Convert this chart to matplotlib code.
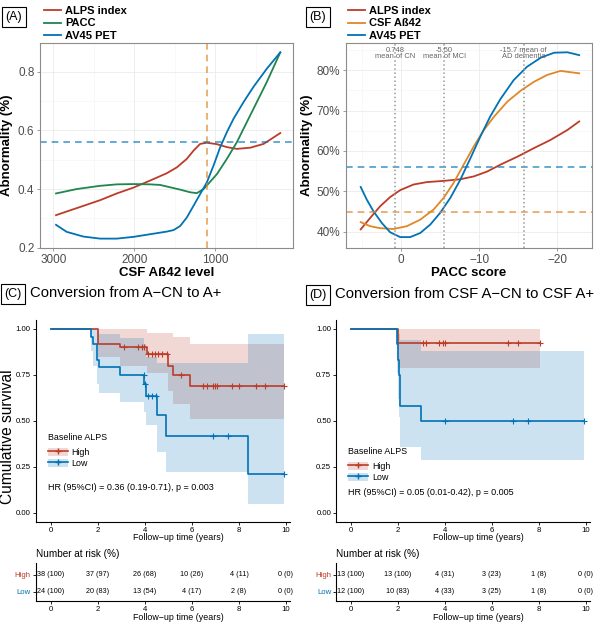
import numpy as np
import matplotlib
matplotlib.use('Agg')
import matplotlib.pyplot as plt
from matplotlib.lines import Line2D
from matplotlib.patches import Patch

plt.rcParams['font.family'] = ['Liberation Sans', 'DejaVu Sans']

RED = '#BC3C29'
BLUE = '#0072B5'
GREEN = '#20854E'
ORANGE = '#E18727'

# ---- panel A: abnormality vs CSF Abeta42 ----
a_alps_x = [2967, 2711, 2423, 2216, 2010, 1804, 1598, 1474, 1351, 1268, 1186, 1103, 979, 856, 732, 567, 402, 196]
a_alps_y = [0.311, 0.335, 0.362, 0.385, 0.405, 0.429, 0.454, 0.474, 0.503, 0.531, 0.554, 0.558, 0.553, 0.543, 0.537, 0.541, 0.554, 0.591]
a_pacc_x = [2967, 2711, 2423, 2216, 2010, 1804, 1680, 1557, 1433, 1309, 1227, 1144, 1062, 979, 856, 732, 608, 485, 361, 196]
a_pacc_y = [0.385, 0.400, 0.411, 0.416, 0.417, 0.416, 0.414, 0.406, 0.398, 0.389, 0.386, 0.400, 0.425, 0.451, 0.503, 0.560, 0.629, 0.697, 0.766, 0.866]
a_av45_x = [2967, 2835, 2629, 2423, 2216, 2010, 1804, 1598, 1515, 1433, 1351, 1268, 1186, 1103, 1021, 938, 856, 773, 649, 526, 361, 196]
a_av45_y = [0.278, 0.254, 0.238, 0.231, 0.231, 0.237, 0.246, 0.255, 0.260, 0.274, 0.303, 0.343, 0.383, 0.423, 0.480, 0.543, 0.594, 0.640, 0.697, 0.749, 0.811, 0.866]
a_cut_x = 1098
a_cut_y = 0.56

# ---- panel B: abnormality vs PACC ----
b_alps_x = [5.18, 3.98, 2.7, 1.41, 0.13, -1.58, -3.3, -5.44, -7.58, -9.29, -11.0, -12.7, -14.9, -17.0, -19.1, -21.3, -22.8]
b_alps_y = [40.6, 43.4, 46.3, 48.6, 50.3, 51.7, 52.3, 52.6, 53.0, 53.7, 54.9, 56.6, 58.6, 60.7, 62.7, 65.2, 67.3]
b_csf_x = [5.18, 3.98, 2.7, 0.98, -0.73, -2.44, -4.15, -5.44, -6.72, -8.0, -9.29, -10.6, -11.9, -13.6, -15.3, -17.0, -18.7, -20.4, -22.8]
b_csf_y = [42.4, 41.4, 40.9, 40.7, 41.4, 43.0, 45.5, 48.4, 52.1, 56.6, 61.1, 65.2, 68.5, 72.2, 74.9, 77.1, 78.8, 79.8, 79.2]
b_av45_x = [5.18, 4.41, 3.55, 2.48, 1.41, 0.13, -1.16, -2.44, -3.73, -5.0, -6.3, -7.58, -8.87, -10.15, -11.4, -12.7, -14.4, -16.1, -17.9, -19.6, -21.3, -22.8]
b_av45_y = [51.1, 48.0, 45.1, 42.2, 39.9, 38.7, 38.7, 39.7, 41.8, 44.7, 48.4, 52.9, 58.2, 63.6, 68.5, 72.8, 77.5, 80.8, 83.1, 84.3, 84.4, 83.7]
b_means = [0.748, -5.50, -15.7]
b_mean_labels = ['0.748\nmean of CN', '-5.50\nmean of MCI', '-15.7 mean of\nAD dementia']
b_cut_av45 = 56
b_cut_csf = 45

# ---- panel C: KM A-CN -> A+ ----
c_hi_t = [0, 2.0, 2.95, 4.08, 5.0, 5.21, 5.9, 9.9]
c_hi_s = [1, 0.92, 0.902, 0.862, 0.80, 0.751, 0.688, 0.688]
c_hi_up = [1, 1, 1, 0.98, 0.98, 0.956, 0.917, 0.917]
c_hi_lo = [1, 0.85, 0.80, 0.76, 0.66, 0.59, 0.51, 0.51]
c_hi_cens = [3.13, 3.72, 3.88, 3.95, 4.15, 4.29, 4.43, 4.55, 4.72, 4.93, 5.54, 6.49, 6.63, 6.91, 6.98, 7.05, 7.69, 8.02, 8.71, 9.11, 9.9]
c_lo_t = [0, 1.71, 1.81, 1.95, 2.05, 2.95, 3.97, 4.03, 4.5, 4.9, 8.37, 9.92]
c_lo_s = [1, 0.958, 0.917, 0.833, 0.792, 0.75, 0.70, 0.633, 0.53, 0.42, 0.21, 0.21]
c_lo_up = [1, 1, 1, 0.99, 0.975, 0.95, 0.92, 0.85, 0.815, 0.815, 0.974, 0.974]
c_lo_lo = [1, 0.88, 0.80, 0.70, 0.65, 0.60, 0.55, 0.48, 0.33, 0.22, 0.05, 0.05]
c_lo_cens = [3.95, 4.0, 4.15, 4.29, 4.46, 6.91, 7.52, 9.92]
c_hr = 'HR (95%CI) = 0.36 (0.19-0.71), p = 0.003'
c_risk_hi = ['38 (100)', '37 (97)', '26 (68)', '10 (26)', '4 (11)', '0 (0)']
c_risk_lo = ['24 (100)', '20 (83)', '13 (54)', '4 (17)', '2 (8)', '0 (0)']

# ---- panel D: KM CSF A-CN -> CSF A+ ----
d_hi_t = [0, 2.02, 8.04]
d_hi_s = [1, 0.923, 0.923]
d_hi_up = [1, 1, 1]
d_hi_lo = [1, 0.79, 0.79]
d_hi_cens = [3.06, 3.2, 3.77, 3.91, 4.0, 6.7, 7.12, 8.04]
d_lo_t = [0, 1.95, 2.0, 2.05, 2.1, 2.97, 9.91]
d_lo_s = [1, 0.917, 0.833, 0.75, 0.583, 0.5, 0.5]
d_lo_up = [1, 1, 1, 0.97, 0.94, 0.88, 0.88]
d_lo_lo = [1, 0.76, 0.62, 0.52, 0.36, 0.287, 0.287]
d_lo_cens = [4.0, 6.91, 7.55, 9.91]
d_hr = 'HR (95%CI) = 0.05 (0.01-0.42), p = 0.005'
d_risk_hi = ['13 (100)', '13 (100)', '4 (31)', '3 (23)', '1 (8)', '0 (0)']
d_risk_lo = ['12 (100)', '10 (83)', '4 (33)', '3 (25)', '1 (8)', '0 (0)']

risk_times = [0, 2, 4, 6, 8, 10]

W, H = 602, 625
fig = plt.figure(figsize=(W / 100, H / 100), dpi=100)


def fax(l, t, r, b):
    return fig.add_axes([l / W, 1 - b / H, (r - l) / W, (b - t) / H])


def ftext(x, y, s, **kw):
    return fig.text(x / W, 1 - y / H, s, **kw)


def style_top(ax):
    ax.grid(which='major', color='#EBEBEB', lw=0.6)
    ax.grid(which='minor', color='#F3F3F3', lw=0.4)
    ax.set_axisbelow(True)
    for sp in ax.spines.values():
        sp.set_color('#8C8C8C')
        sp.set_linewidth(0.8)
    ax.tick_params(which='major', labelsize=8.5, colors='#8C8C8C', labelcolor='#4D4D4D', length=2.5, width=0.6, pad=1.5)
    ax.tick_params(which='minor', length=0)


def top_legend(ax, x):
    ax.legend(loc='upper left', bbox_to_anchor=(x / W, 1 - 6 / H), bbox_transform=fig.transFigure,
              frameon=False, prop={'weight': 'bold', 'size': 8}, handlelength=1.5, handletextpad=0.4,
              labelspacing=0.22, borderpad=0, borderaxespad=0)


# panel A
axA = fax(40, 43, 293, 248)
axA.plot(a_alps_x, a_alps_y, color=RED, lw=1.3, label='ALPS index')
axA.plot(a_pacc_x, a_pacc_y, color=GREEN, lw=1.3, label='PACC')
axA.plot(a_av45_x, a_av45_y, color=BLUE, lw=1.3, label='AV45 PET')
axA.axvline(a_cut_x, color=ORANGE, ls=(0, (4, 3)), lw=1.2, alpha=0.75)
axA.axhline(a_cut_y, color=BLUE, ls=(0, (4, 3)), lw=1.2, alpha=0.7)
axA.set_xlim(3165, 39)
axA.set_ylim(0.199, 0.898)
axA.set_xticks([3000, 2000, 1000])
axA.set_xticks([2500, 1500, 500], minor=True)
axA.set_yticks([0.2, 0.4, 0.6, 0.8])
axA.set_yticks([0.3, 0.5, 0.7], minor=True)
style_top(axA)
axA.set_xlabel('CSF Aß42 level', fontsize=9.5, fontweight='bold', labelpad=1)
axA.set_ylabel('Abnormality (%)', fontsize=9.5, fontweight='bold')
axA.yaxis.set_label_coords((13 - 40) / 253, 0.5)
top_legend(axA, 44)

# panel B
axB = fax(345.7, 43, 591.7, 248)
axB.plot(b_alps_x, b_alps_y, color=RED, lw=1.3, label='ALPS index')
axB.plot(b_csf_x, b_csf_y, color=ORANGE, lw=1.3, label='CSF Aß42')
axB.plot(b_av45_x, b_av45_y, color=BLUE, lw=1.3, label='AV45 PET')
axB.axhline(b_cut_av45, color=BLUE, ls=(0, (4, 3)), lw=1.2, alpha=0.7)
axB.axhline(b_cut_csf, color=ORANGE, ls=(0, (4, 3)), lw=1.2, alpha=0.75)
for xm, lab in zip(b_means, b_mean_labels):
    axB.axvline(xm, color='#9A9A9A', ls=':', lw=1.1)
    axB.text(xm, 84.1, lab, ha='center', va='center', fontsize=5.4, color='#666666', linespacing=0.95)
axB.set_xlim(7.1, -24.4)
axB.set_ylim(36.0, 86.7)
axB.set_xticks([0, -10, -20])
axB.set_xticklabels(['0', '\u221210', '\u221220'])
axB.set_xticks([5, -5, -15], minor=True)
axB.set_yticks([40, 50, 60, 70, 80])
axB.set_yticklabels(['40%', '50%', '60%', '70%', '80%'])
axB.set_yticks([45, 55, 65, 75, 85], minor=True)
style_top(axB)
axB.set_xlabel('PACC score', fontsize=9.5, fontweight='bold', labelpad=1)
axB.set_ylabel('Abnormality (%)', fontsize=9.5, fontweight='bold')
axB.yaxis.set_label_coords((313 - 345.7) / 246, 0.5)
top_legend(axB, 348)


def step_at(t, s, x):
    idx = np.searchsorted(np.asarray(t), np.asarray(x), side='right') - 1
    return np.asarray(s)[idx]


def km_panel(l, r, zero_px, hi, lo, hr, hr_y, leg_y):
    ax = fax(l, 319.8, r, 521.9)
    x0 = (l - zero_px) / 23.53
    x1 = (r - zero_px) / 23.53
    for (t, s, up, dn, cens), col in ((hi, RED), (lo, BLUE)):
        ax.fill_between(t, dn, up, step='post', color=col, alpha=0.2, lw=0)
    for (t, s, up, dn, cens), col in ((hi, RED), (lo, BLUE)):
        ax.step(t, s, where='post', color=col, lw=1.2)
        ax.plot(cens, step_at(t, s, cens), '+', color=col, ms=4, mew=0.8)
    ax.set_xlim(x0, x1)
    ax.set_ylim(-0.05, 1.05)
    ax.set_xticks(risk_times)
    ax.set_yticks([0, 0.25, 0.5, 0.75, 1.0])
    ax.set_yticklabels(['0.00', '0.25', '0.50', '0.75', '1.00'])
    for sp in ('top', 'right'):
        ax.spines[sp].set_visible(False)
    for sp in ('left', 'bottom'):
        ax.spines[sp].set_linewidth(0.8)
    ax.tick_params(labelsize=5.6, length=2, width=0.6, pad=1.5)
    handles = [(Patch(facecolor=RED, alpha=0.2), Line2D([], [], color=RED, marker='+', ms=4, lw=1.2)),
               (Patch(facecolor=BLUE, alpha=0.2), Line2D([], [], color=BLUE, marker='+', ms=4, lw=1.2))]
    leg = ax.legend(handles, ['High', 'Low'], title='Baseline ALPS', loc='upper left',
                    bbox_to_anchor=((l + 12) / W, 1 - leg_y / H), bbox_transform=fig.transFigure,
                    frameon=False, fontsize=6.4, title_fontsize=6.4, handlelength=2.3, handleheight=1.1,
                    handletextpad=0.4, labelspacing=0.2, borderpad=0, borderaxespad=0)
    leg._legend_box.align = 'left'
    leg._legend_box.sep = 4
    ftext(l + 12.5, hr_y, hr, fontsize=6.5, va='center')
    return ax


def risk_panel(l, r, zero_px, hi_vals, lo_vals):
    ax = fax(l, 563, r, 601)
    ax.set_xlim((l - zero_px) / 23.53, (r - zero_px) / 23.53)
    ax.set_ylim(0.47, 2.7)
    for t, a, b in zip(risk_times, hi_vals, lo_vals):
        ax.text(t, 2, a, ha='center', va='center', fontsize=5.2)
        ax.text(t, 1, b, ha='center', va='center', fontsize=5.2)
    ax.set_xticks(risk_times)
    ax.set_yticks([2, 1])
    ax.set_yticklabels(['High', 'Low'])
    for lab, col in zip(ax.get_yticklabels(), (RED, BLUE)):
        lab.set_color(col)
    for sp in ('top', 'right'):
        ax.spines[sp].set_visible(False)
    for sp in ('left', 'bottom'):
        ax.spines[sp].set_linewidth(0.8)
    ax.tick_params(labelsize=5.6, length=2, width=0.6, pad=1.5)
    return ax


km_panel(35.7, 290, 50.7,
         (c_hi_t, c_hi_s, c_hi_up, c_hi_lo, c_hi_cens),
         (c_lo_t, c_lo_s, c_lo_up, c_lo_lo, c_lo_cens), c_hr, 488, 433)
km_panel(336, 590, 350.7,
         (d_hi_t, d_hi_s, d_hi_up, d_hi_lo, d_hi_cens),
         (d_lo_t, d_lo_s, d_lo_up, d_lo_lo, d_lo_cens), d_hr, 492.5, 447)
risk_panel(35.7, 290, 50.7, c_risk_hi, c_risk_lo)
risk_panel(336, 590, 350.7, d_risk_hi, d_risk_lo)

# titles and shared labels
ftext(30, 293, 'Conversion from A\u2212CN to A+', fontsize=10.7, va='center')
ftext(335, 294, 'Conversion from CSF A\u2212CN to CSF A+', fontsize=10.7, va='center')
ftext(8, 437, 'Cumulative survival', fontsize=11.2, rotation=90, ha='center', va='center')
for xc in (178, 478.7):
    ftext(xc, 537, 'Follow\u2212up time (years)', fontsize=6.4, ha='center', va='center')
    ftext(xc, 617, 'Follow\u2212up time (years)', fontsize=6.4, ha='center', va='center')
ftext(36, 554, 'Number at risk (%)', fontsize=7.2, va='center')
ftext(336, 554, 'Number at risk (%)', fontsize=7.2, va='center')

box = dict(boxstyle='square,pad=0.3', fc='white', ec='black', lw=0.8)
ftext(14, 17, '(A)', fontsize=9, ha='center', va='center', bbox=box)
ftext(318, 17, '(B)', fontsize=9, ha='center', va='center', bbox=box)
ftext(13, 294, '(C)', fontsize=9, ha='center', va='center', bbox=box)
ftext(318, 295, '(D)', fontsize=9, ha='center', va='center', bbox=box)

fig.savefig('out.png', dpi=100, facecolor='white')
